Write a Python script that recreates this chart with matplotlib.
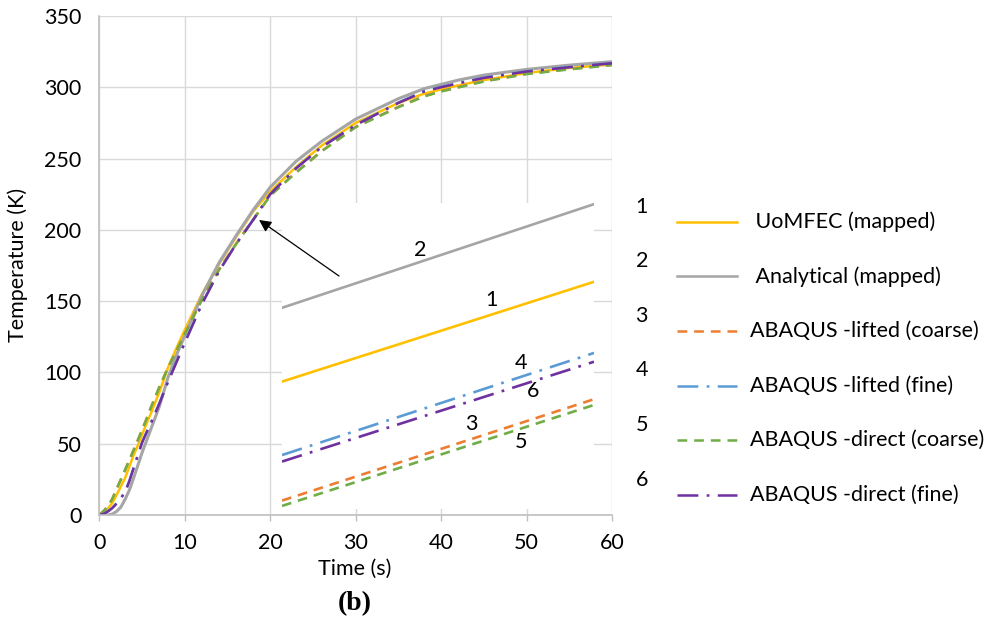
import matplotlib
matplotlib.use("Agg")
import matplotlib.pyplot as plt
from matplotlib.lines import Line2D

plt.rcParams['font.family'] = ['Lato', 'DejaVu Sans']
plt.rcParams['lines.scale_dashes'] = False

# time (s) and temperatures (K)
t = [0, 0.5, 1, 1.5, 2, 2.5, 3, 3.5, 4, 4.5, 5, 5.5, 6, 7, 8, 9, 10, 12, 14, 16, 18, 20,
     23, 26, 30, 35, 38, 40, 42, 45, 50, 55, 60]
uomfec = [0, 1.2, 4.5, 8.5, 14, 20, 26, 34, 42, 49, 56.5, 64, 71, 86, 103, 117, 130, 155,
          176, 195, 213, 227, 244, 259, 275, 289, 295.5, 298.5, 301.3, 305, 310, 313.5, 316]
analytical = [0, 0, 0, 0.6, 2.5, 5.5, 11, 17.5, 26, 35, 44, 52, 60, 76, 96, 112, 126, 154,
              177, 196, 214, 230, 248, 262, 277.7, 292, 299, 302, 305, 308.5, 312.5, 315.5,
              317.9]
lifted_coarse = [0, 3, 6.3, 11.5, 18.4, 25, 31.8, 38.8, 45.8, 52.8, 60, 67.5, 75.3, 89.7,
                 103.2, 115.2, 127.3, 151.2, 172.3, 190.4, 207.3, 224.3, 240.3, 255.3, 272.3,
                 286.3, 293.8, 297.3, 300.1, 304.3, 309.4, 312.8, 315.7]
lifted_fine = [0, 1, 2.7, 5, 8.3, 12, 16.4, 24, 33.2, 42.3, 51.2, 58, 64.3, 78.3, 93.3,
               107.3, 121.3, 148.3, 171.3, 190.3, 207.3, 225.3, 243.3, 258.3, 273.8, 289.3,
               297.3, 300.3, 303, 306.8, 311.2, 314.2, 317]
direct_coarse = [0, 2.8, 6, 11.2, 18, 24.7, 31.5, 38.5, 45.5, 52.5, 59.7, 67.2, 75, 89.4,
                 103, 115, 127, 151, 172, 190, 207, 224, 240, 255, 272, 286, 293.5, 297,
                 299.8, 304, 309.2, 312.5, 315.5]
direct_fine = [0, 0.8, 2.5, 4.8, 8, 11.7, 16, 23.8, 33, 42, 51, 57.7, 64, 78, 93, 107, 121,
               148, 171, 190, 207, 225, 243, 258, 273.5, 289, 297, 300, 302.7, 306.5, 311,
               314, 316.8]

# magnified view around t = 18.5 .. 19 s
t_zoom = [18.5, 19.0]
zoom_uomfec = [206.33, 208.94]
zoom_analytical = [208.26, 210.97]
zoom_lifted_coarse = [203.22, 205.87]
zoom_lifted_fine = [204.41, 207.08]
zoom_direct_coarse = [203.08, 205.72]
zoom_direct_fine = [204.24, 206.85]

names = [" UoMFEC (mapped)", " Analytical (mapped)", "ABAQUS -lifted (coarse)",
         "ABAQUS -lifted (fine)", "ABAQUS -direct (coarse)", "ABAQUS -direct (fine)"]
colors = ["#FFC000", "#A5A5A5", "#ED7D31", "#5B9BD5", "#70AD47", "#7030A0"]
dash = (0, (7, 5))
dashdot = (0, (15, 6, 2, 6))
styles = ["-", "-", dash, dashdot, dash, dashdot]
widths = [1.8, 2.2, 1.8, 1.8, 1.8, 1.8]

main_series = [uomfec, analytical, lifted_coarse, lifted_fine, direct_coarse, direct_fine]
zoom_series = [zoom_uomfec, zoom_analytical, zoom_lifted_coarse, zoom_lifted_fine,
               zoom_direct_coarse, zoom_direct_fine]

FS = 15.5

fig = plt.figure(figsize=(9.94, 6.23), dpi=100)
ax = fig.add_axes([0.1001, 0.1734, 0.5156, 0.8010])

for y, c, ls, lw in zip(main_series, colors, styles, widths):
    ax.plot(t, y, color=c, linestyle=ls, lw=lw)

ax.set_xlim(0, 60)
ax.set_ylim(0, 350)
ax.set_xticks(range(0, 61, 10))
ax.set_yticks(range(0, 351, 50))
ax.grid(True, color="#D9D9D9", lw=1.0)
ax.set_axisbelow(True)
for s in ["top", "right"]:
    ax.spines[s].set_visible(False)
for s in ["left", "bottom"]:
    ax.spines[s].set_color("#BFBFBF")
    ax.spines[s].set_linewidth(1.2)
ax.tick_params(axis="y", length=0, pad=13, labelsize=FS)
ax.tick_params(axis="x", length=4, width=1, color="#BFBFBF", pad=9, labelsize=FS)
ax.set_ylabel("Temperature (K)", fontsize=FS)
ax.set_xlabel("Time (s)", fontsize=FS)
ax.yaxis.set_label_coords(-0.159, 0.501)
ax.xaxis.set_label_coords(0.4985, -0.107)
ax.xaxis.label.set_va("center")
ax.yaxis.label.set_va("center")

# zoomed inset
ax_in = fig.add_axes([282 / 994, (623 - 509) / 623, 312 / 994, 306 / 623])
ax_in.set_facecolor("white")
for y, c, ls, lw in zip(zoom_series, colors, styles, widths):
    ax_in.plot(t_zoom, y, color=c, linestyle=ls, lw=1.9)
ax_in.set_xlim(t_zoom)
ax_in.set_ylim(203, 211)
for s in ax_in.spines.values():
    s.set_visible(False)
ax_in.set_xticks([])
ax_in.set_yticks([])

tags = ["2", "1", "4", "6", "3", "5"]
tag_xy = [(18.721, 209.77), (18.836, 208.46), (18.883, 206.82), (18.902, 206.08),
          (18.803, 205.22), (18.883, 204.75)]
for tg, (x, y) in zip(tags, tag_xy):
    ax_in.text(x, y, tg, fontsize=FS, ha="center", va="center")

ax_in.annotate("", xy=(18.68, 206.9), xycoords=ax.transData,
               xytext=(28.04, 167.6), textcoords=ax.transData,
               arrowprops=dict(arrowstyle="-|>", color="black", lw=0.9,
                               mutation_scale=18, shrinkA=0, shrinkB=0),
               annotation_clip=False)

# legend with numbered entries
W, H = 994, 623
for i, (nm, c, ls) in enumerate(zip(names, colors, styles)):
    yl = 221.7 + i * 54.6
    fig.text(641.7 / W, 1 - (yl - 15) / H, str(i + 1), fontsize=FS, ha="center", va="center")
    fig.add_artist(Line2D([676.7 / W, 736.7 / W], [1 - yl / H, 1 - yl / H],
                          color=c, linestyle=ls, lw=1.8, transform=fig.transFigure))
    fig.text(750 / W, 1 - yl / H, nm, fontsize=FS, ha="left", va="center")

fig.text(355 / W, 1 - 604 / H, "(b)", fontsize=20, fontweight="bold",
         family="Liberation Serif", ha="center", va="center")

fig.savefig("out.png", dpi=100)
